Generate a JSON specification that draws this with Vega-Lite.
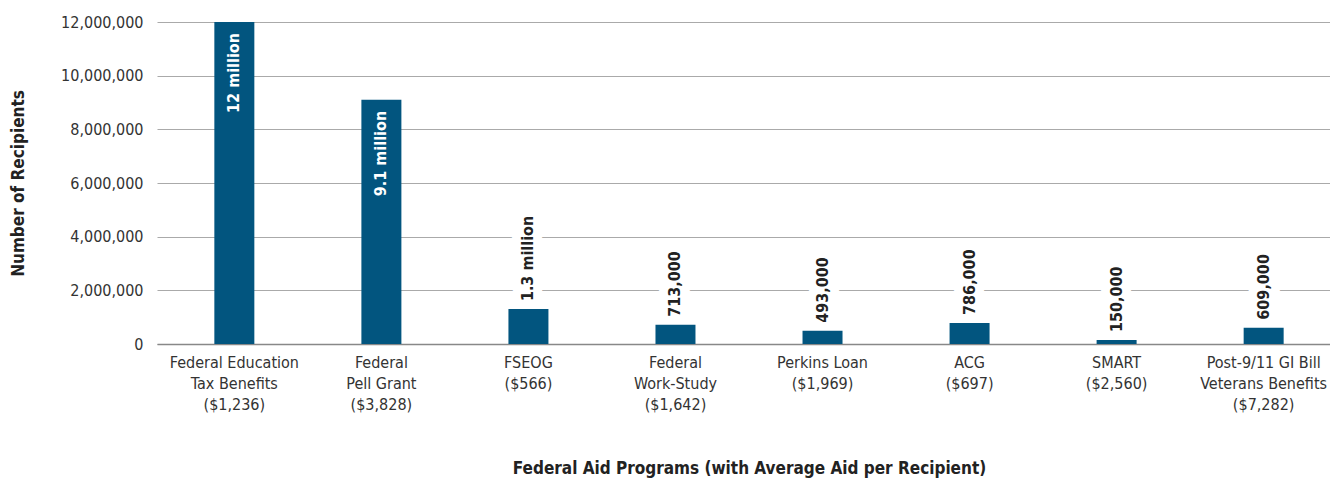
{
  "$schema": "https://vega.github.io/schema/vega-lite/v6.json",
  "autosize": "none",
  "padding": {"left": 157, "top": 22, "right": 0, "bottom": 136},
  "width": 1184,
  "height": 322,
  "background": "white",
  "config": {
    "font": "Liberation Sans Narrow, DejaVu Sans Condensed, sans-serif",
    "view": {"stroke": null}
  },
  "data": {
    "values": [
      {"program": "Federal Education|Tax Benefits|($1,236)", "recipients": 12000000, "label": "12 million"},
      {"program": "Federal|Pell Grant|($3,828)", "recipients": 9100000, "label": "9.1 million"},
      {"program": "FSEOG|($566)", "recipients": 1300000, "label": "1.3 million"},
      {"program": "Federal|Work-Study|($1,642)", "recipients": 713000, "label": "713,000"},
      {"program": "Perkins Loan|($1,969)", "recipients": 493000, "label": "493,000"},
      {"program": "ACG|($697)", "recipients": 786000, "label": "786,000"},
      {"program": "SMART|($2,560)", "recipients": 150000, "label": "150,000"},
      {"program": "Post-9/11 GI Bill|Veterans Benefits|($7,282)", "recipients": 609000, "label": "609,000"}
    ]
  },
  "encoding": {
    "x": {
      "field": "program",
      "type": "nominal",
      "scale": {
        "domain": ["Federal Education|Tax Benefits|($1,236)", "Federal|Pell Grant|($3,828)", "FSEOG|($566)", "Federal|Work-Study|($1,642)", "Perkins Loan|($1,969)", "ACG|($697)", "SMART|($2,560)", "Post-9/11 GI Bill|Veterans Benefits|($7,282)"],
        "paddingInner": 0.728,
        "paddingOuter": 0.39
      },
      "axis": {
        "title": "Federal Aid Programs (with Average Aid per Recipient)",
        "titleFontSize": 17,
        "titleFontWeight": "bold",
        "titleColor": "#222",
        "titlePadding": 48,
        "labelExpr": "split(datum.value, '|')",
        "labelAngle": 0,
        "labelFontSize": 16,
        "labelColor": "#333",
        "labelLineHeight": 21,
        "labelPadding": 10,
        "ticks": false,
        "domainColor": "#888",
        "domainWidth": 1.5,
        "grid": false
      }
    },
    "y": {
      "field": "recipients",
      "type": "quantitative",
      "scale": {"domain": [0, 12000000], "nice": false},
      "axis": {
        "title": "Number of Recipients",
        "titleFontSize": 17,
        "titleFontWeight": "bold",
        "titleColor": "#222",
        "titlePadding": 33,
        "values": [0, 2000000, 4000000, 6000000, 8000000, 10000000, 12000000],
        "format": ",d",
        "labelFontSize": 16,
        "labelColor": "#333",
        "labelPadding": 14,
        "ticks": false,
        "domain": false,
        "gridColor": "#aaa",
        "gridWidth": 1.2
      }
    }
  },
  "layer": [
    {
      "transform": [{"filter": "datum.recipients < 5000000"}],
      "mark": {"type": "text", "angle": -90, "align": "left", "baseline": "middle", "dx": 8, "fontSize": 16, "fontWeight": "bold", "stroke": "white", "strokeWidth": 18, "strokeJoin": "round", "fill": "white"},
      "encoding": {"text": {"field": "label"}}
    },
    {
      "mark": {"type": "bar", "color": "#02557f"}
    },
    {
      "transform": [{"filter": "datum.recipients < 5000000"}],
      "mark": {"type": "text", "angle": -90, "align": "left", "baseline": "middle", "dx": 8, "fontSize": 16, "fontWeight": "bold", "color": "#222"},
      "encoding": {"text": {"field": "label"}}
    },
    {
      "transform": [{"filter": "datum.recipients >= 5000000"}],
      "mark": {"type": "text", "angle": -90, "align": "right", "baseline": "middle", "dx": -11, "fontSize": 16, "fontWeight": "bold", "color": "white"},
      "encoding": {"text": {"field": "label"}}
    }
  ]
}
